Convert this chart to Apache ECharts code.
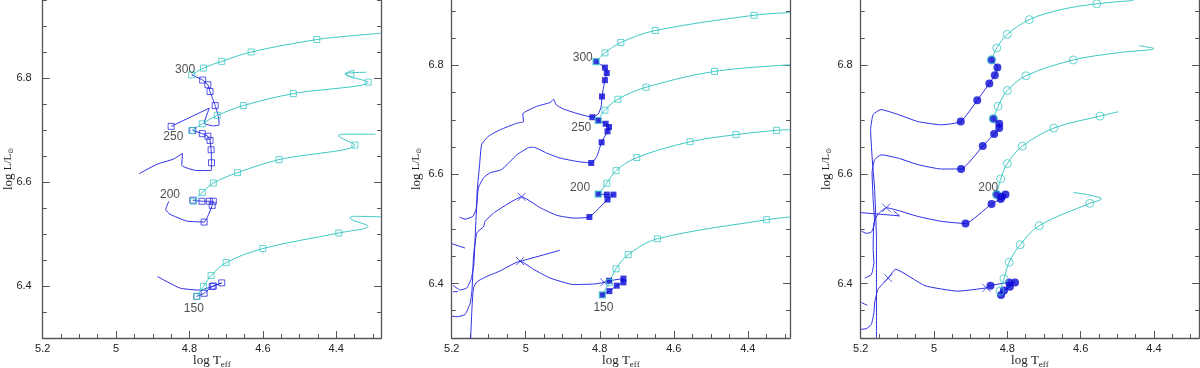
<!DOCTYPE html>
<html>
<head>
<meta charset="utf-8">
<title>evolutionary tracks</title>
<script src="https://cdn.jsdelivr.net/npm/echarts@6/dist/echarts.min.js"></script>
<style>
  html, body { margin: 0; padding: 0; background: #fff; }
  #chart { width: 1200px; height: 368px; }
</style>
</head>
<body>
<div id="chart"></div>
<script>
// tick labels
var xTicks = [5.2, 5, 4.8, 4.6, 4.4];
var yTicks = [6.4, 6.6, 6.8];

// points: [logTeff, logL, flag]  flag 1 = symbol, 2 = cross, 3 = start symbol
// ---- panel 1 ----
var p1c300 = [[4.794,6.806,1],[4.762,6.819,1],[4.712,6.832,1],[4.632,6.850,1],[4.453,6.874,1],[4.36,6.881],[4.278,6.886]];
var p1c250 = [[4.794,6.699,1],[4.765,6.712,1],[4.724,6.728,1],[4.653,6.747,1],[4.517,6.770,1],[4.313,6.792,1],[4.376,6.808],[4.352,6.815],[4.353,6.800],[4.376,6.808],[4.318,6.811]];
var p1c200 = [[4.789,6.563,1],[4.765,6.580,1],[4.735,6.598,1],[4.669,6.618,1],[4.556,6.643,1],[4.349,6.671,1],[4.381,6.683],[4.394,6.689],[4.381,6.692],[4.293,6.692]];
var p1c150 = [[4.780,6.380,1],[4.762,6.399,1],[4.741,6.420,1],[4.700,6.445,1],[4.600,6.472,1],[4.393,6.502,1],[4.313,6.515],[4.363,6.531],[4.353,6.534],[4.278,6.533]];
var p1b300 = [[4.794,6.806],[4.764,6.796,1],[4.750,6.787,1],[4.744,6.774,1],[4.730,6.747,1],[4.721,6.726],[4.719,6.710],[4.735,6.708],[4.760,6.713],[4.746,6.742],[4.850,6.707,1]];
var p1b250 = [[4.791,6.699,1],[4.765,6.693,1],[4.750,6.688,1],[4.744,6.680,1],[4.741,6.662,1],[4.740,6.637,1],[4.741,6.622],[4.780,6.622],[4.821,6.632],[4.819,6.655],[4.844,6.644],[4.889,6.634],[4.937,6.616]];
var p1b200 = [[4.791,6.565,1],[4.766,6.563,1],[4.746,6.563,1],[4.735,6.563,1],[4.738,6.555,1],[4.760,6.523,1],[4.808,6.525],[4.853,6.538],[4.865,6.547],[4.856,6.563]];
var p1b150 = [[4.780,6.380,1],[4.760,6.386,1],[4.738,6.399,1],[4.712,6.406,1],[4.735,6.400,1],[4.771,6.392],[4.826,6.396],[4.887,6.418]];
var p1Labels = [[4.812,6.816,'300'],[4.844,6.687,'250'],[4.853,6.576,'200'],[4.788,6.356,'150']];

// ---- panel 2 ----
var p2c300 = [[4.810,6.807],[4.786,6.823,1],[4.743,6.842,1],[4.650,6.864,1],[4.383,6.892,1],[4.286,6.897]];
var p2c250 = [[4.805,6.699],[4.786,6.718,1],[4.751,6.738,1],[4.675,6.760,1],[4.490,6.789,1],[4.286,6.801]];
var p2c200 = [[4.803,6.564],[4.781,6.584,1],[4.756,6.607,1],[4.700,6.631,1],[4.556,6.660,1],[4.432,6.673,1],[4.322,6.681,1],[4.286,6.682]];
var p2c150 = [[4.793,6.379],[4.774,6.402,1],[4.756,6.427,1],[4.723,6.453,1],[4.644,6.482,1],[4.349,6.517,1],[4.286,6.522]];
var p2b300 = [[4.810,6.807,3],[4.786,6.796,1],[4.781,6.786,1],[4.786,6.773,1],[4.794,6.743,1],[4.796,6.725],[4.804,6.711],[4.820,6.705,1],[4.862,6.712],[4.898,6.720],[4.918,6.728],[4.925,6.738],[4.934,6.732],[4.970,6.725],[5.008,6.711],[5.006,6.697],[5.024,6.694],[5.069,6.682],[5.101,6.670],[5.119,6.655],[5.125,6.615],[5.131,6.572],[5.134,6.536],[5.143,6.523],[5.164,6.518],[5.179,6.522]];
var p2b250 = [[4.804,6.699,3],[4.784,6.693,1],[4.775,6.687,1],[4.779,6.679,1],[4.795,6.659,1],[4.808,6.633],[4.823,6.621,1],[4.862,6.624],[4.907,6.630],[4.943,6.639],[4.979,6.650],[4.993,6.649],[5.024,6.636],[5.065,6.609],[5.096,6.603],[5.114,6.594],[5.128,6.575],[5.134,6.523],[5.140,6.436],[5.147,6.409],[5.159,6.392],[5.177,6.388],[5.197,6.397]];
var p2b200 = [[4.804,6.564,3],[4.781,6.563,1],[4.763,6.563,1],[4.779,6.554,1],[4.828,6.522,1],[4.871,6.520],[4.916,6.525],[4.961,6.539],[5.011,6.559,2],[5.051,6.545],[5.087,6.529],[5.110,6.514],[5.114,6.504],[5.132,6.493],[5.141,6.451],[5.145,6.389],[5.150,6.364],[5.164,6.343],[5.186,6.339],[5.2,6.340]];
var p2b150 = [[4.793,6.379,3],[4.774,6.386,1],[4.754,6.396,1],[4.736,6.402,1],[4.736,6.409,1],[4.775,6.405,1],[4.788,6.402,2],[4.817,6.399],[4.871,6.398],[4.934,6.410],[4.979,6.426],[5.015,6.441,2],[5.069,6.423],[5.105,6.413],[5.132,6.403],[5.141,6.392],[5.145,6.358],[5.149,6.297]];
var p2b150b = [[5.018,6.440],[4.907,6.461]];
var p2bitA = [[5.2,6.473],[5.164,6.465]];
var p2bitB = [[5.197,6.385],[5.183,6.385]];
var p2Labels = [[4.846,6.815,'300'],[4.850,6.685,'250'],[4.853,6.575,'200'],[4.790,6.355,'150']];

// ---- panel 3 ----
var p3c300 = [[4.843,6.810],[4.829,6.832,1],[4.800,6.857,1],[4.740,6.884,1],[4.656,6.902],[4.556,6.913,1],[4.456,6.919]];
var p3c250 = [[4.838,6.702],[4.825,6.725,1],[4.800,6.754,1],[4.749,6.781,1],[4.620,6.810,1],[4.502,6.823],[4.400,6.831],[4.440,6.836]];
var p3c200 = [[4.829,6.563],[4.818,6.592,1],[4.800,6.620,1],[4.759,6.652,1],[4.673,6.685,1],[4.547,6.707,1],[4.497,6.715]];
var p3c150 = [[4.820,6.386,1],[4.809,6.409,1],[4.795,6.439,1],[4.765,6.471,1],[4.713,6.506,1],[4.575,6.547,1],[4.543,6.555],[4.620,6.567]];
var p3b300 = [[4.843,6.810,3],[4.827,6.796,1],[4.834,6.782,1],[4.849,6.767,1],[4.882,6.736,1],[4.927,6.697,1],[4.980,6.691],[5.044,6.697],[5.098,6.710],[5.145,6.719],[5.166,6.710],[5.173,6.682],[5.169,6.633],[5.162,6.572],[5.157,6.480],[5.157,6.389],[5.157,6.300]];
var p3b250 = [[4.838,6.702,3],[4.822,6.693,1],[4.822,6.685,1],[4.836,6.674,1],[4.867,6.652,1],[4.926,6.610,1],[4.980,6.610],[5.044,6.618],[5.098,6.630],[5.144,6.636],[5.162,6.627],[5.169,6.603],[5.166,6.554],[5.162,6.511],[5.171,6.494],[5.185,6.492],[5.198,6.496]];
var p3b200 = [[4.829,6.563,3],[4.815,6.559,1],[4.805,6.563,1],[4.818,6.555,1],[4.843,6.546,1],[4.914,6.510,1],[4.980,6.514],[5.044,6.523],[5.098,6.534],[5.130,6.539,2],[5.153,6.527],[5.164,6.511],[5.166,6.463],[5.164,6.438],[5.171,6.416],[5.189,6.410]];
var p3b200b = [[5.2,6.530],[5.094,6.524],[5.11,6.533]];
var p3b150 = [[4.817,6.379,1],[4.809,6.387,1],[4.793,6.394,1],[4.779,6.402,1],[4.795,6.402,1],[4.846,6.396,1],[4.857,6.392,2],[4.935,6.386],[5.025,6.396],[5.105,6.426],[5.125,6.410,2],[5.153,6.389],[5.162,6.364],[5.164,6.346],[5.171,6.325],[5.185,6.317],[5.2,6.316]];
var p3bit = [[5.198,6.365],[5.182,6.360]];
var p3Labels = [[4.852,6.575,'200']];

var CYAN = '#3fc9c5', BLUE = '#2d2de2', DARK = '#0a0ad4', FRAME = '#555';

var panels = [
    { left: 42.7, xMin: 4.278, yMax: 6.95, labelMargin: 11, nameGap: 28, symbol: 'rect', blueFill: false, size: 6,
      cyan: [p1c300, p1c250, p1c200, p1c150], blue: [p1b300, p1b250, p1b200, p1b150], labels: p1Labels },
    { left: 451.7, xMin: 4.286, yMax: 6.92, labelMargin: 8, nameGap: 29, symbol: 'rect', blueFill: true, size: 6,
      cyan: [p2c300, p2c250, p2c200, p2c150], blue: [p2b300, p2b250, p2b200, p2b150, p2b150b, p2bitA, p2bitB], labels: p2Labels },
    { left: 860.7, xMin: 4.277, yMax: 6.92, labelMargin: 8, nameGap: 28, symbol: 'circle', blueFill: true, size: 8,
      cyan: [p3c300, p3c250, p3c200, p3c150], blue: [p3b300, p3b250, p3b200, p3b150, p3b200b, p3bit], labels: p3Labels }
];

function r2(v) { return Math.round(v * 100) / 100; }
function minorX(lo) {
    var out = [];
    for (var k = 80; k <= 104; k++) {
        var w = r2(k * 0.05);
        if (w >= lo && w <= 5.2 && xTicks.indexOf(w) < 0) out.push(w);
    }
    return out;
}
function minorY(hi) {
    var out = [];
    for (var k = 126; k <= 140; k++) {
        var w = r2(k * 0.05);
        if (w >= 6.3 && w <= hi && yTicks.indexOf(w) < 0) out.push(w);
    }
    return out;
}

var grids = [], xAxes = [], yAxes = [], series = [];
var tickLine = { color: FRAME, width: 1 };

panels.forEach(function (p, i) {
    grids.push({ left: p.left, top: 0, width: 338.3, height: 338, outerBoundsMode: 'none', containLabel: false });
    var xm = minorX(p.xMin), ym = minorY(p.yMax);
    xAxes.push({
        gridIndex: i, type: 'value', position: 'bottom', inverse: true, min: p.xMin, max: 5.2,
        axisLine: { show: true, onZero: false, lineStyle: { color: FRAME, width: 1.3 } },
        axisTick: { show: true, inside: true, length: 7, customValues: xTicks, lineStyle: tickLine },
        axisLabel: { customValues: xTicks, color: '#222', fontSize: 11, margin: 5, fontFamily: 'Liberation Sans' },
        splitLine: { show: false },
        name: '{a|log T}{b|eff}', nameLocation: 'middle', nameGap: 15, nameMoveOverlap: false,
        nameTextStyle: { rich: {
            a: { fontFamily: 'Liberation Serif', fontSize: 13, color: '#222' },
            b: { fontFamily: 'Liberation Serif', fontSize: 9, color: '#222', padding: [7, 0, 0, 0] }
        } }
    });
    xAxes.push({
        gridIndex: i, type: 'value', position: 'bottom', inverse: true, min: p.xMin, max: 5.2,
        axisLine: { show: false, onZero: false }, axisLabel: { show: false }, splitLine: { show: false },
        axisTick: { show: true, inside: true, length: 4, customValues: xm, lineStyle: tickLine }
    });
    ['left', 'right'].forEach(function (side) {
        yAxes.push({
            gridIndex: i, type: 'value', position: side, min: 6.3, max: p.yMax,
            axisLine: { show: true, onZero: false, lineStyle: { color: FRAME, width: 1.3 } },
            axisTick: { show: true, inside: true, length: 7, customValues: yTicks, lineStyle: tickLine },
            axisLabel: side === 'left'
                ? { customValues: yTicks, color: '#222', fontSize: 11, margin: p.labelMargin, fontFamily: 'Liberation Sans' }
                : { show: false },
            splitLine: { show: false },
            name: side === 'left' ? '{a|log }{b|L/L}{c|⊙}' : '',
            nameLocation: 'middle', nameGap: p.nameGap, nameMoveOverlap: false,
            nameTextStyle: { rich: {
                a: { fontFamily: 'Liberation Serif', fontSize: 13, color: '#222' },
                b: { fontFamily: 'Liberation Serif', fontSize: 11, color: '#222' },
                c: { fontFamily: 'DejaVu Sans', fontSize: 7, color: '#222', padding: [6, 0, 0, 0] }
            } }
        });
        yAxes.push({
            gridIndex: i, type: 'value', position: side, min: 6.3, max: p.yMax,
            axisLine: { show: false, onZero: false }, axisLabel: { show: false }, splitLine: { show: false },
            axisTick: { show: true, inside: true, length: 4, customValues: ym, lineStyle: tickLine }
        });
    });

    var xi = 2 * i, yi = 4 * i;
    function line(pts, color, smooth, z) {
        series.push({
            type: 'line', xAxisIndex: xi, yAxisIndex: yi, silent: true, animation: false,
            symbol: 'none', smooth: smooth, z: z,
            lineStyle: { color: color, width: 1 },
            data: pts.map(function (q) { return [q[0], q[1]]; })
        });
    }
    function marks(pts, style, z) {
        var d = pts.filter(function (q) { return q[2] === 1 || q[2] === 3; }).map(function (q) {
            var item = { value: [q[0], q[1]] };
            if (q[2] === 3) item.itemStyle = { borderColor: CYAN, borderWidth: 1.2 };
            return item;
        });
        series.push({
            type: 'scatter', xAxisIndex: xi, yAxisIndex: yi, silent: true, animation: false,
            symbol: p.symbol, symbolSize: p.size, z: z, itemStyle: style, data: d
        });
        var c = pts.filter(function (q) { return q[2] === 2; }).map(function (q) { return [q[0], q[1]]; });
        if (c.length) series.push({
            type: 'scatter', xAxisIndex: xi, yAxisIndex: yi, silent: true, animation: false,
            symbol: 'path://M0 0L10 10M10 0L0 10', symbolSize: 8, z: z,
            itemStyle: { color: 'rgba(0,0,0,0)', borderColor: BLUE, borderWidth: 1 }, data: c
        });
    }

    p.blue.forEach(function (pts) { line(pts, BLUE, 0.15, 2); });
    p.cyan.forEach(function (pts) { line(pts, CYAN, 0.35, 3); });
    p.blue.forEach(function (pts) {
        marks(pts, p.blueFill ? { color: DARK } : { color: 'rgba(0,0,0,0)', borderColor: BLUE, borderWidth: 1 }, 4);
    });
    p.cyan.forEach(function (pts) {
        marks(pts, { color: 'rgba(0,0,0,0)', borderColor: CYAN, borderWidth: 1 }, 5);
    });
    series.push({
        type: 'scatter', xAxisIndex: xi, yAxisIndex: yi, silent: true, animation: false,
        symbolSize: 1, itemStyle: { color: 'rgba(0,0,0,0)' }, z: 6,
        label: { show: true, position: 'inside', color: '#222', fontSize: 12, fontFamily: 'Liberation Sans',
            formatter: function (prm) { return prm.data[2]; } },
        data: p.labels
    });
});

var chart = echarts.init(document.getElementById('chart'), null, { renderer: 'canvas' });
chart.setOption({
    animation: false,
    backgroundColor: '#fff',
    grid: grids,
    xAxis: xAxes,
    yAxis: yAxes,
    series: series
});
</script>
</body>
</html>
